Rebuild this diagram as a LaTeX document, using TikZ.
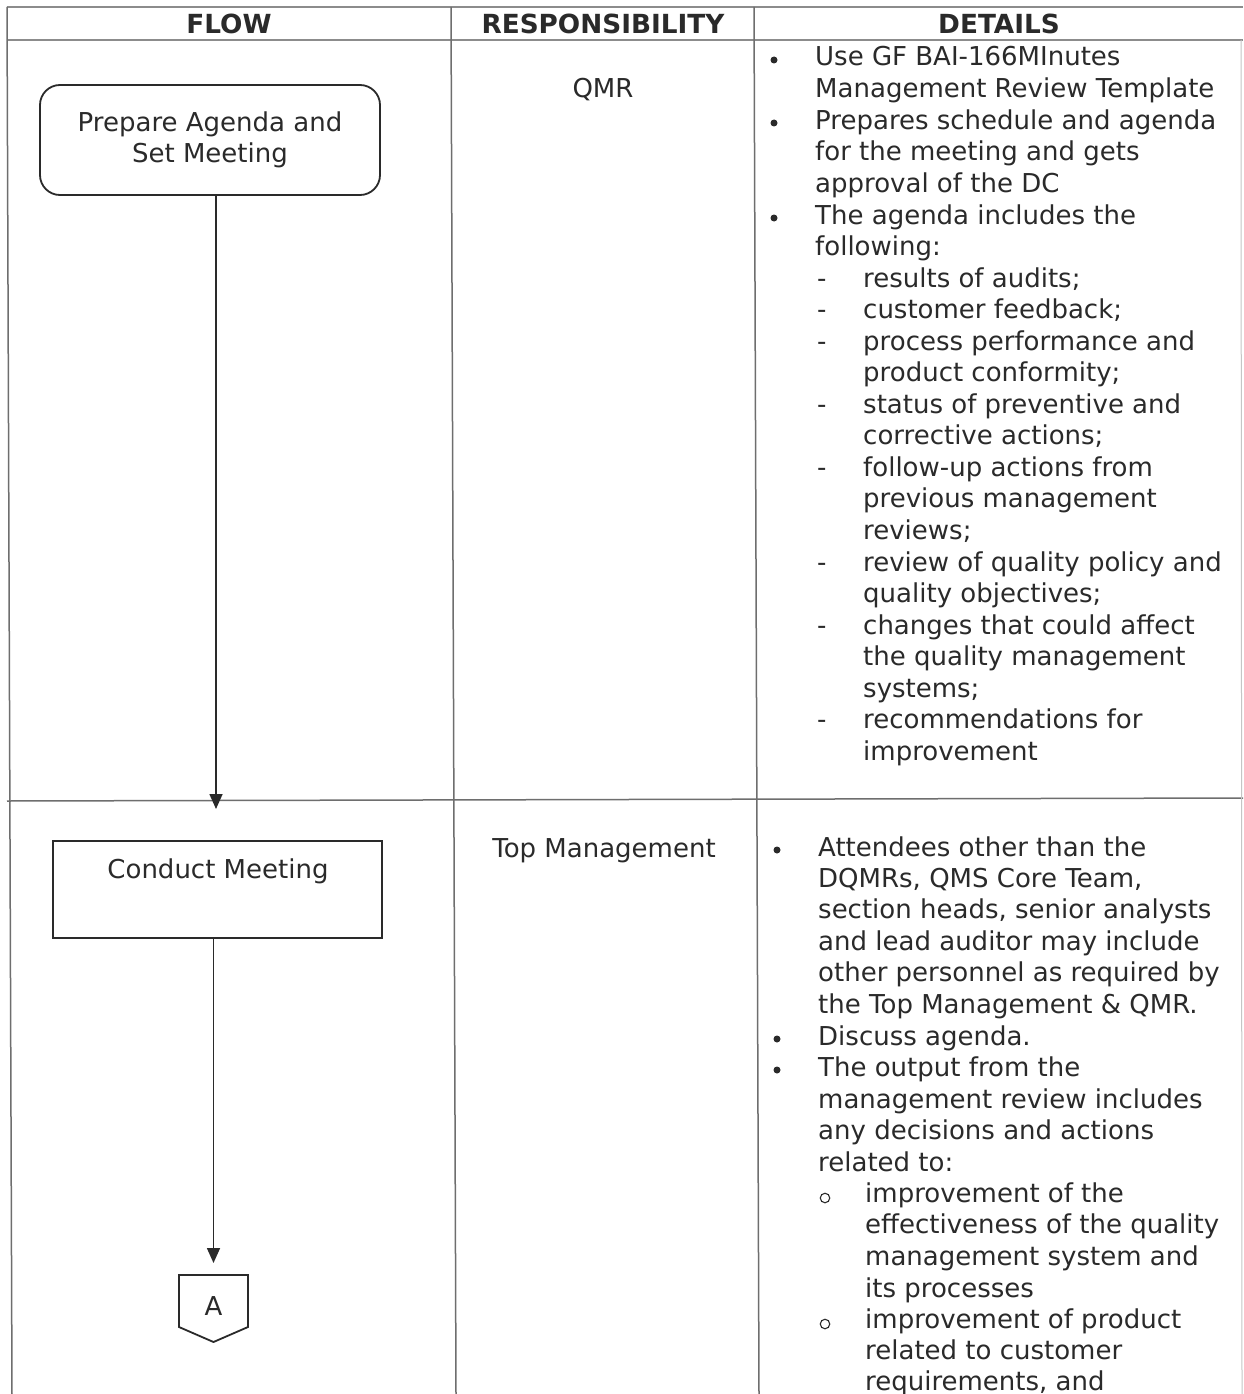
\documentclass[tikz,border=0pt]{standalone}
\usepackage{fontspec}
\setmainfont{DejaVu Sans}
\usetikzlibrary{arrows.meta}
\definecolor{ink}{RGB}{42,42,42}
\definecolor{rule}{RGB}{110,110,110}
\definecolor{hrule}{RGB}{140,140,140}
\tikzset{
  txt/.style={inner sep=0pt, text=ink, font=\fontsize{26}{31.5}\selectfont},
  bul/.style={circle, fill=ink, inner sep=0pt, minimum size=7pt},
  hdr/.style={inner sep=0pt, text=ink, font=\fontsize{26.3}{30}\selectfont\bfseries},
  subo/.style={circle, draw=ink, line width=1.1pt, inner sep=0pt, minimum size=9.5pt},
  tline/.style={draw=rule, line width=1.5pt},
  htline/.style={draw=hrule, line width=2.6pt},
  flowbox/.style={draw=ink, line width=1.8pt, text=ink, font=\fontsize{26}{31}\selectfont, align=center, inner sep=0pt},
  arr/.style={draw=ink, line width=1.6pt, -{Triangle[length=15pt,width=13pt]}},
}
\newcommand\tl[4]{\node[txt,anchor=base west] (#1) at (#2,#3) {#4};}
\begin{document}
\begin{tikzpicture}[x=1pt,y=-1pt]
\path[use as bounding box, fill=white] (0,0) rectangle (1243,1394);
% table rules
\draw[htline] (7,7) -- (1243,7);
\draw[htline] (7,40) -- (1243,40);
\draw[tline] (7,801) -- (1243,798);
\draw[tline] (7,7) -- (12,1394);
\draw[tline] (451,7) -- (456,1394);
\draw[tline] (754,7) -- (759,1394);
\draw[draw=rule!40, line width=1pt] (1241,40) -- (1242,1394);
% header
\node[hdr,anchor=base] (hflow) at (229,33.5) {FLOW};
\node[hdr,anchor=base] (hresp) at (603,33.5) {RESPONSIBILITY};
\node[hdr,anchor=base] (hdet) at (999,33.5) {DETAILS};
% responsibility
\node[txt,anchor=base] (qmr) at (603,98) {QMR};
\node[txt,anchor=base] (topm) at (604,857) {Top Management};
% flow
\node[flowbox, rounded corners=20pt, minimum width=340pt, minimum height=110pt] (b1) at (210,140) {Prepare Agenda and\\Set Meeting};
\coordinate (t1) at (216,809);
\draw[arr] (b1.south -| t1) -- (t1);
\node[flowbox, minimum width=329pt, minimum height=97pt] (b2) at (217.5,889.5) {};
\node[txt,anchor=base] (b2t) at (218,878) {Conduct Meeting};
\coordinate (t2) at (213.5,1263);
\draw[arr] (b2.south -| t2) -- (t2);
\node[txt] (conA) at (213.5,1306) {A};
\draw[draw=ink, line width=1.8pt, line join=miter] ([shift={(-34.5,-31)}]conA.center) -- ([shift={(34.5,-31)}]conA.center) -- ([shift={(34.5,21)}]conA.center) -- ([shift={(0,36)}]conA.center) -- ([shift={(-34.5,21)}]conA.center) -- cycle;
% details row 1
\node[bul] (m1) at (774,60) {};
\tl{a1}{815}{66}{Use GF BAI-166MInutes}
\tl{a2}{815}{97.5}{Management Review Template}
\node[bul] (m2) at (774,123) {};
\tl{a3}{815}{129}{Prepares schedule and agenda}
\tl{a4}{815}{160.5}{for the meeting and gets}
\tl{a5}{815}{192}{approval of the DC}
\node[bul] (m3) at (774,218) {};
\tl{a6}{815}{224}{The agenda includes the}
\tl{a7}{815}{255.5}{following:}
\node[txt,anchor=base west] (d1) at (817,287) {-};
\tl{a8}{863}{287}{results of audits;}
\node[txt,anchor=base west] (d2) at (817,318.5) {-};
\tl{a9}{863}{318.5}{customer feedback;}
\node[txt,anchor=base west] (d3) at (817,350) {-};
\tl{a10}{863}{350}{process performance and}
\tl{a11}{863}{381.5}{product conformity;}
\node[txt,anchor=base west] (d4) at (817,413) {-};
\tl{a12}{863}{413}{status of preventive and}
\tl{a13}{863}{444.5}{corrective actions;}
\node[txt,anchor=base west] (d5) at (817,476) {-};
\tl{a14}{863}{476}{follow-up actions from}
\tl{a15}{863}{507.5}{previous management}
\tl{a16}{863}{539}{reviews;}
\node[txt,anchor=base west] (d6) at (817,571) {-};
\tl{a17}{863}{571}{review of quality policy and}
\tl{a18}{863}{602.5}{quality objectives;}
\node[txt,anchor=base west] (d7) at (817,634) {-};
\tl{a19}{863}{634}{changes that could affect}
\tl{a20}{863}{665.5}{the quality management}
\tl{a21}{863}{697}{systems;}
\node[txt,anchor=base west] (d8) at (817,728) {-};
\tl{a22}{863}{728}{recommendations for}
\tl{a23}{863}{760}{improvement}
% details row 2
\node[bul] (n1) at (777,850) {};
\tl{c1}{818}{856}{Attendees other than the}
\tl{c2}{818}{887.5}{DQMRs, QMS Core Team,}
\tl{c3}{818}{918.5}{section heads, senior analysts}
\tl{c4}{818}{950}{and lead auditor may include}
\tl{c5}{818}{981.5}{other personnel as required by}
\tl{c6}{818}{1013}{the Top Management \& QMR.}
\node[bul] (n2) at (777,1039) {};
\tl{c7}{818}{1045}{Discuss agenda.}
\node[bul] (n3) at (777,1070) {};
\tl{c8}{818}{1076}{The output from the}
\tl{c9}{818}{1108}{management review includes}
\tl{c10}{818}{1139}{any decisions and actions}
\tl{c11}{818}{1171}{related to:}
\node[subo] (o1) at (825,1198) {};
\tl{c12}{865}{1202}{improvement of the}
\tl{c13}{865}{1233.5}{effectiveness of the quality}
\tl{c14}{865}{1265}{management system and}
\tl{c15}{865}{1297}{its processes}
\node[subo] (o2) at (825,1324) {};
\tl{c16}{865}{1328}{improvement of product}
\tl{c17}{865}{1359.5}{related to customer}
\tl{c18}{865}{1390}{requirements, and}
\end{tikzpicture}
\end{document}
